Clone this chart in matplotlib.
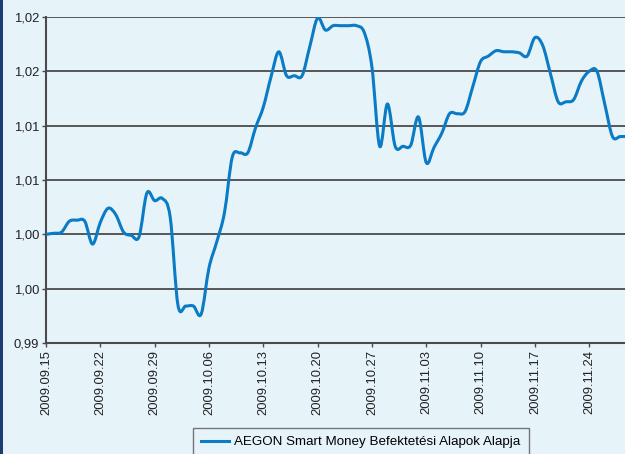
import matplotlib
matplotlib.use("Agg")
import matplotlib.pyplot as plt
import matplotlib.dates as mdates
import datetime as dt
import numpy as np
from decimal import Decimal, ROUND_HALF_UP
from matplotlib.patches import Rectangle, PathPatch
from matplotlib.path import Path
from matplotlib.lines import Line2D

plt.rcParams['font.family'] = ['Liberation Sans', 'DejaVu Sans']

start_date = "2009-09-15"
values = [
    1.0000, 1.0001, 1.0002, 1.0012, 1.0013, 1.0012, 0.9991, 1.0011, 1.0024, 1.0018,
    1.0002, 0.9999, 0.9998, 1.0038, 1.0031, 1.0033, 1.0016, 0.9935, 0.9934, 0.9934,
    0.99267, 0.9969, 0.9993, 1.0020, 1.0071, 1.0075, 1.0075, 1.0098, 1.0117, 1.0145,
    1.0168, 1.0146, 1.0146, 1.0146, 1.0173, 1.0199, 1.0188, 1.0192, 1.0192, 1.0192,
    1.0192, 1.0186, 1.0154, 1.0081, 1.0120, 1.0081, 1.0081, 1.0082, 1.0108, 1.0066,
    1.0080, 1.0093, 1.0111, 1.0111, 1.0113, 1.0136, 1.0159, 1.0164, 1.0169, 1.0168,
    1.0168, 1.0167, 1.0164, 1.0181, 1.0174, 1.0148, 1.0122, 1.0122, 1.0124, 1.0141,
    1.0150, 1.0150, 1.0120, 1.0090, 1.0090, 1.0090,
]
tick_labels = ["2009.09.15", "2009.09.22", "2009.09.29", "2009.10.06", "2009.10.13",
               "2009.10.20", "2009.10.27", "2009.11.03", "2009.11.10", "2009.11.17",
               "2009.11.24"]
y_ticks = ["0.99", "0.995", "1.00", "1.005", "1.01", "1.015", "1.02"]
series_name = "AEGON Smart Money Befektetési Alapok Alapja"

d0 = dt.datetime.strptime(start_date, "%Y-%m-%d")
dates = [d0 + dt.timedelta(days=i) for i in range(len(values))]
tick_dates = [dt.datetime.strptime(t, "%Y.%m.%d") for t in tick_labels]

bg = "#E6F4FA"
line_c = "#0A7BC4"
grid_c = "#4A4A4A"

fig = plt.figure(figsize=(6.25, 4.54), dpi=100, facecolor=bg)
W, H = 625, 454
left, top, bottom = 46, 17, 343
ax = fig.add_axes([left / W, 1 - bottom / H, (W - left) / W, (bottom - top) / H])
ax.set_facecolor(bg)

# smoothed line (Excel-style Catmull-Rom rendering through the data points)
xs = np.asarray(mdates.date2num(dates))
ys = np.asarray(values)
n = len(xs)
verts = [(xs[0], ys[0])]
codes = [Path.MOVETO]
for i in range(n - 1):
    p0 = i - 1 if i > 0 else i
    p3 = i + 2 if i + 2 < n else i + 1
    c1 = (xs[i] + (xs[i + 1] - xs[p0]) / 6, ys[i] + (ys[i + 1] - ys[p0]) / 6)
    c2 = (xs[i + 1] - (xs[p3] - xs[i]) / 6, ys[i + 1] - (ys[p3] - ys[i]) / 6)
    verts += [c1, c2, (xs[i + 1], ys[i + 1])]
    codes += [Path.CURVE4] * 3
ax.add_patch(PathPatch(Path(verts, codes), facecolor='none', edgecolor=line_c,
                       lw=2.2, joinstyle='round', capstyle='round', zorder=3))

x0 = mdates.date2num(d0)
ax.set_xlim(x0, x0 + (W - left) / 7.76)
ax.set_ylim(0.99, 1.02)
ax.set_yticks([float(t) for t in y_ticks])
ax.set_yticklabels([str(Decimal(t).quantize(Decimal("0.01"), rounding=ROUND_HALF_UP)).replace(".", ",")
                    for t in y_ticks])
ax.set_xticks(mdates.date2num(tick_dates))
ax.set_xticklabels(tick_labels, rotation=90)
ax.grid(axis='y', color=grid_c, lw=1.3, zorder=1)
ax.set_axisbelow(True)

for s in ['top', 'right']:
    ax.spines[s].set_visible(False)
for s in ['left', 'bottom']:
    ax.spines[s].set_color(grid_c)
    ax.spines[s].set_linewidth(1.5)
ax.tick_params(axis='both', direction='out', length=3, width=1, color=grid_c,
               labelsize=9.4, labelcolor="#222222", pad=2)

handle = Line2D([], [], color=line_c, lw=2.2)
leg = fig.legend([handle], [series_name], loc='upper left',
                 bbox_to_anchor=(193 / W, 1 - 428 / H),
                 frameon=True, fancybox=False, fontsize=9.6, handlelength=2.1,
                 borderpad=0.6, handletextpad=0.4, borderaxespad=0)
leg.get_frame().set_edgecolor("#555555")
leg.get_frame().set_facecolor(bg)
leg.get_frame().set_linewidth(1.0)

# left frame border
fig.patches.append(Rectangle((0, 0), 2.5 / W, 1, transform=fig.transFigure,
                             facecolor="#1F3B73", edgecolor='none'))

fig.savefig("out.png", dpi=100, facecolor=bg)
